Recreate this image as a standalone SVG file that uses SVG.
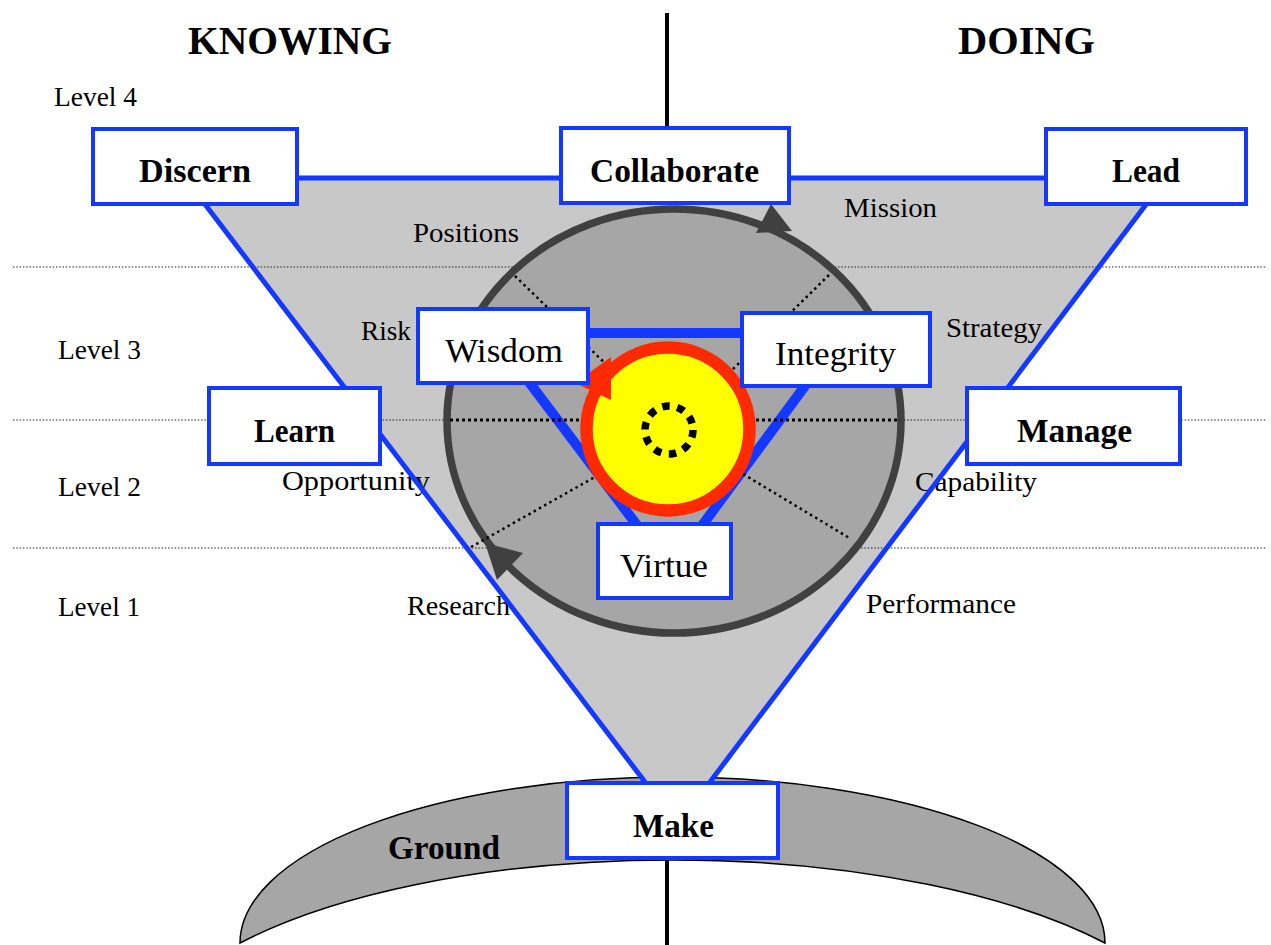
<svg xmlns="http://www.w3.org/2000/svg" width="1271" height="945" viewBox="0 0 1271 945">
<style>
.box{fill:#fff;stroke:#1438ff;stroke-width:4}
.bt{font-family:"Liberation Serif",serif;font-weight:bold;font-size:33px;fill:#000}
.rt{font-family:"Liberation Serif",serif;font-size:34px;fill:#000}
.lab{font-family:"Liberation Serif",serif;font-size:27px;fill:#000}
.ttl{font-family:"Liberation Serif",serif;font-weight:bold;font-size:39px;fill:#000}
.fine{stroke:#222;stroke-width:1.2;stroke-dasharray:1.5 1.8;fill:none}
.dot{stroke:#000;stroke-width:3;stroke-dasharray:3 3;fill:none}
.dia{stroke:#000;stroke-width:2.5;stroke-dasharray:2.5 3.5;fill:none}
.edge{stroke:#1438ff;stroke-width:5;fill:none}
</style>
<rect width="1271" height="945" fill="#fff"/>
<!-- axis -->
<line x1="667" y1="13" x2="667" y2="130" stroke="#000" stroke-width="4"/>
<!-- ground -->
<path d="M240,943 A432.5,166 0 0 1 1105,943 A533,200 0 0 0 240,943 Z" fill="#a6a6a6" stroke="#000" stroke-width="1.5"/>
<line x1="667" y1="856" x2="667" y2="945" stroke="#000" stroke-width="4"/>
<text class="bt" x="388" y="859" font-size="32" textLength="112" lengthAdjust="spacingAndGlyphs">Ground</text>
<!-- funnel -->
<polygon points="185,178 1166,178 710,782 645,782" fill="#c8c8c8"/>
<!-- level dividers -->
<line class="fine" x1="13" y1="267" x2="1267" y2="267"/>
<line class="fine" x1="13" y1="420" x2="1267" y2="420"/>
<line class="fine" x1="13" y1="548" x2="1267" y2="548"/>
<!-- titles and labels -->
<text class="ttl" x="188" y="54" textLength="204" lengthAdjust="spacingAndGlyphs">KNOWING</text>
<text class="ttl" x="958" y="54" textLength="137" lengthAdjust="spacingAndGlyphs">DOING</text>
<text class="lab" x="54" y="106" textLength="83" lengthAdjust="spacingAndGlyphs">Level 4</text>
<text class="lab" x="58" y="359" textLength="83" lengthAdjust="spacingAndGlyphs">Level 3</text>
<text class="lab" x="58" y="496" textLength="83" lengthAdjust="spacingAndGlyphs">Level 2</text>
<text class="lab" x="58" y="616" textLength="82" lengthAdjust="spacingAndGlyphs">Level 1</text>
<text class="lab" x="413" y="242" textLength="106" lengthAdjust="spacingAndGlyphs">Positions</text>
<text class="lab" x="844" y="217" textLength="93" lengthAdjust="spacingAndGlyphs">Mission</text>
<text class="lab" x="361" y="340" textLength="50" lengthAdjust="spacingAndGlyphs">Risk</text>
<text class="lab" x="946" y="337" textLength="96" lengthAdjust="spacingAndGlyphs">Strategy</text>
<text class="lab" x="282" y="490" textLength="148" lengthAdjust="spacingAndGlyphs">Opportunity</text>
<text class="lab" x="915" y="491" textLength="122" lengthAdjust="spacingAndGlyphs">Capability</text>
<text class="lab" x="407" y="615" textLength="103" lengthAdjust="spacingAndGlyphs">Research</text>
<text class="lab" x="866" y="613" textLength="150" lengthAdjust="spacingAndGlyphs">Performance</text>
<g id="connectors">
<line class="edge" x1="185" y1="178" x2="1166" y2="178"/>
<line class="edge" x1="185" y1="178" x2="645" y2="782"/>
<line class="edge" x1="1166" y1="178" x2="710" y2="782"/>
<!-- cycle -->
<ellipse cx="674" cy="421" rx="227" ry="212" fill="#a6a6a6" stroke="#404040" stroke-width="7.5"/>
<polygon points="792,231 756,233 771,204" fill="#404040"/>
<polygon points="485,543 523,553 497,580" fill="#404040"/>
<!-- inner triangle -->
<polygon points="492,333 844,333 670,569" fill="none" stroke="#1438ff" stroke-width="10"/>
</g>
<!-- inner dotted lines -->
<line class="dot" x1="450" y1="420" x2="898" y2="420"/>
<line class="dia" x1="515" y1="276" x2="612" y2="370"/>
<line class="dia" x1="829" y1="275" x2="728" y2="374"/>
<line class="dia" x1="471" y1="547" x2="602" y2="473"/>
<line class="dia" x1="738" y1="471" x2="851" y2="539"/>
<!-- core -->
<g id="core">
<circle cx="668" cy="429" r="81.5" fill="#ffff00" stroke="#ff2a00" stroke-width="12.5"/>
<polygon points="575,383 611,357 611,400" fill="#ff2a00"/>
<circle cx="669" cy="430" r="24" fill="none" stroke="#000" stroke-width="7.5" stroke-dasharray="7.5 7.58"/>
</g>
<!-- nodes -->
<g id="discern"><rect class="box" x="93" y="129" width="204" height="75"/><text class="bt" x="139" y="182" textLength="112" lengthAdjust="spacingAndGlyphs">Discern</text></g>
<g id="collaborate"><rect class="box" x="561" y="128" width="228" height="75"/><text class="bt" x="590" y="182" textLength="169" lengthAdjust="spacingAndGlyphs">Collaborate</text></g>
<g id="lead"><rect class="box" x="1046" y="129" width="200" height="75"/><text class="bt" x="1112" y="182" textLength="68" lengthAdjust="spacingAndGlyphs">Lead</text></g>
<g id="learn"><rect class="box" x="209" y="388" width="171" height="76"/><text class="bt" x="254" y="442" textLength="81" lengthAdjust="spacingAndGlyphs">Learn</text></g>
<g id="manage"><rect class="box" x="967" y="388" width="213" height="76"/><text class="bt" x="1017" y="442" textLength="115" lengthAdjust="spacingAndGlyphs">Manage</text></g>
<g id="make"><rect class="box" x="567" y="783" width="211" height="75"/><text class="bt" x="633" y="837" textLength="81" lengthAdjust="spacingAndGlyphs">Make</text></g>
<g id="wisdom"><rect class="box" x="418" y="309" width="170" height="74"/><text class="rt" x="445" y="362" textLength="118" lengthAdjust="spacingAndGlyphs">Wisdom</text></g>
<g id="integrity"><rect class="box" x="742" y="313" width="188" height="73"/><text class="rt" x="775" y="365" textLength="121" lengthAdjust="spacingAndGlyphs">Integrity</text></g>
<g id="virtue"><rect class="box" x="598" y="524" width="133" height="74"/><text class="rt" x="620" y="577" textLength="88" lengthAdjust="spacingAndGlyphs">Virtue</text></g>
</svg>
